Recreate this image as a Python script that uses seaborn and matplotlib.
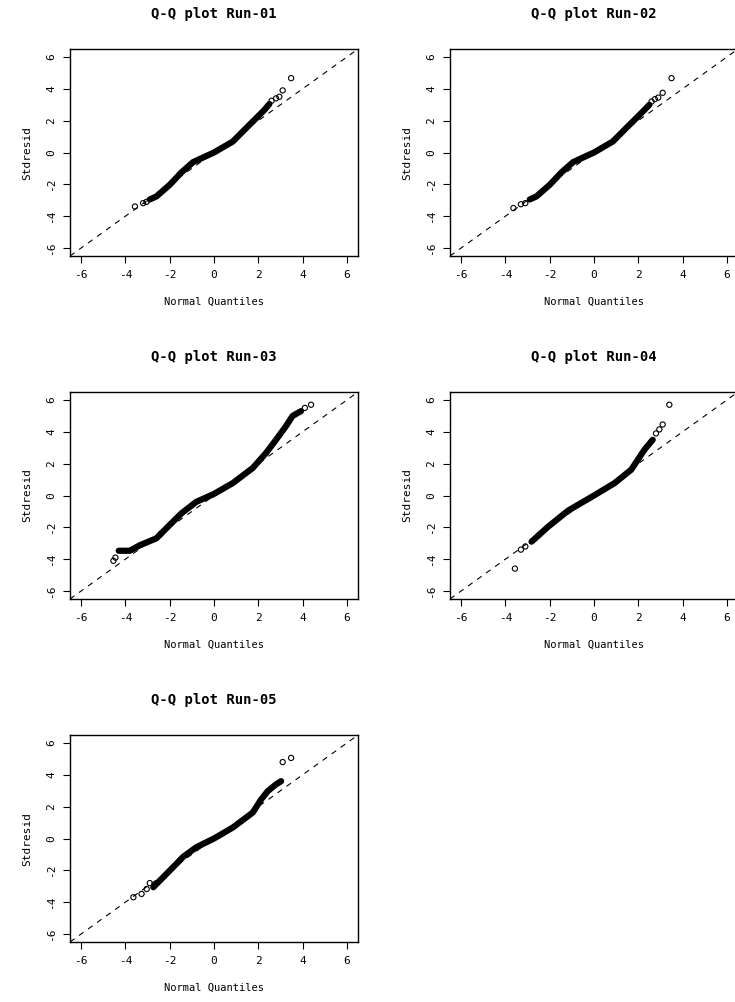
import matplotlib
matplotlib.use("Agg")
import matplotlib.pyplot as plt
import seaborn as sns
import pandas as pd

sns.set_style("white")
plt.rcParams['font.family'] = ['DejaVu Sans Mono', 'DejaVu Sans']
plt.rcParams['text.color'] = 'black'
plt.rcParams['axes.labelcolor'] = 'black'

titles = ["Q-Q plot Run-01", "Q-Q plot Run-02", "Q-Q plot Run-03", "Q-Q plot Run-04", "Q-Q plot Run-05"]

# dense body of each Q-Q curve (normal quantile, standardized residual)
dense_x1 = [-2.9, -2.6, -2.0, -1.47, -0.94, 0.0, 0.85, 1.45, 1.98, 2.28, 2.5]
dense_y1 = [-2.95, -2.76, -2.03, -1.25, -0.6, 0.0, 0.69, 1.53, 2.26, 2.68, 3.05]
sparse_x1 = [-3.57, -3.2, -3.05, 2.6, 2.8, 2.95, 3.1, 3.48]
sparse_y1 = [-3.39, -3.18, -3.1, 3.25, 3.4, 3.5, 3.9, 4.67]

dense_x2 = [-2.9, -2.6, -2.0, -1.47, -0.94, 0.0, 0.85, 1.45, 1.98, 2.28, 2.5]
dense_y2 = [-2.95, -2.76, -2.03, -1.25, -0.6, 0.0, 0.69, 1.53, 2.26, 2.68, 3.0]
sparse_x2 = [-3.64, -3.3, -3.1, 2.6, 2.75, 2.9, 3.1, 3.5]
sparse_y2 = [-3.49, -3.25, -3.18, 3.2, 3.35, 3.45, 3.75, 4.67]

dense_x3 = [-4.3, -3.8, -3.34, -2.6, -2.0, -1.47, -0.8, 0.0, 0.85, 1.75, 2.35, 2.8, 3.25, 3.55, 3.93]
dense_y3 = [-3.47, -3.47, -3.12, -2.69, -1.85, -1.12, -0.4, 0.1, 0.78, 1.73, 2.67, 3.5, 4.36, 5.0, 5.3]
sparse_x3 = [-4.54, -4.45, -2.4, 4.1, 4.38]
sparse_y3 = [-4.1, -3.9, -2.4, 5.5, 5.7]

dense_x4 = [-2.82, -2.07, -1.17, 0.0, 0.93, 1.68, 1.98, 2.28, 2.65]
dense_y4 = [-2.9, -1.96, -0.95, 0.0, 0.78, 1.62, 2.25, 2.88, 3.5]
sparse_x4 = [-3.57, -3.3, -3.1, 2.8, 2.95, 3.1, 3.4]
sparse_y4 = [-4.59, -3.4, -3.2, 3.9, 4.15, 4.46, 5.7]

dense_x5 = [-2.74, -2.0, -1.39, -0.8, 0.0, 0.85, 1.75, 2.13, 2.43, 2.8, 3.03]
dense_y5 = [-3.06, -2.02, -1.15, -0.55, 0.0, 0.69, 1.63, 2.46, 2.98, 3.4, 3.6]
sparse_x5 = [-3.64, -3.27, -3.04, -2.9, 3.1, 3.48]
sparse_y5 = [-3.69, -3.48, -3.17, -2.8, 4.8, 5.06]

panels = [(dense_x1, dense_y1, sparse_x1, sparse_y1),
          (dense_x2, dense_y2, sparse_x2, sparse_y2),
          (dense_x3, dense_y3, sparse_x3, sparse_y3),
          (dense_x4, dense_y4, sparse_x4, sparse_y4),
          (dense_x5, dense_y5, sparse_x5, sparse_y5)]

ticks = [-6, -4, -2, 0, 2, 4, 6]

fig = plt.figure(figsize=(7.35, 10.02), dpi=100)
W, H = 735, 1002
lefts = [70, 450]
tops = [49, 392, 735]
aw, ah = 288, 207

for i, (dx, dy, sx, sy) in enumerate(panels):
    r, c = divmod(i, 2)
    ax = fig.add_axes([lefts[c] / W, 1 - (tops[r] + ah) / H, aw / W, ah / H])
    ax.set_xlim(-6.5, 6.5)
    ax.set_ylim(-6.5, 6.5)
    ax.axline((0, 0), slope=1, color="black", lw=0.8, ls=(0, (5, 5)))
    d = pd.DataFrame({"q": dx, "r": dy})
    sns.lineplot(data=d, x="q", y="r", ax=ax, color="black", lw=4.5, sort=False)
    s = pd.DataFrame({"q": sx, "r": sy})
    sns.scatterplot(data=s, x="q", y="r", ax=ax, marker="o", s=14,
                    facecolor="none", edgecolor="black", linewidth=0.8)
    ax.set_xticks(ticks)
    ax.set_yticks(ticks)
    ax.set_xticklabels([str(t) for t in ticks], fontsize=8)
    ax.set_yticklabels([str(t) for t in ticks], fontsize=8, rotation=90, va="center")
    ax.tick_params(direction="out", length=5, width=0.8, colors="black", pad=5,
                   bottom=True, left=True)
    for sp in ax.spines.values():
        sp.set_visible(True)
        sp.set_color("black")
        sp.set_linewidth(1.0)
    ax.set_xlabel("Normal Quantiles", fontsize=7.5, labelpad=12)
    ax.set_ylabel("Stdresid", fontsize=8, labelpad=10)
    ax.set_title(titles[i], fontsize=10, fontweight="bold", pad=22, color="black")

fig.savefig("out.png", dpi=100)
